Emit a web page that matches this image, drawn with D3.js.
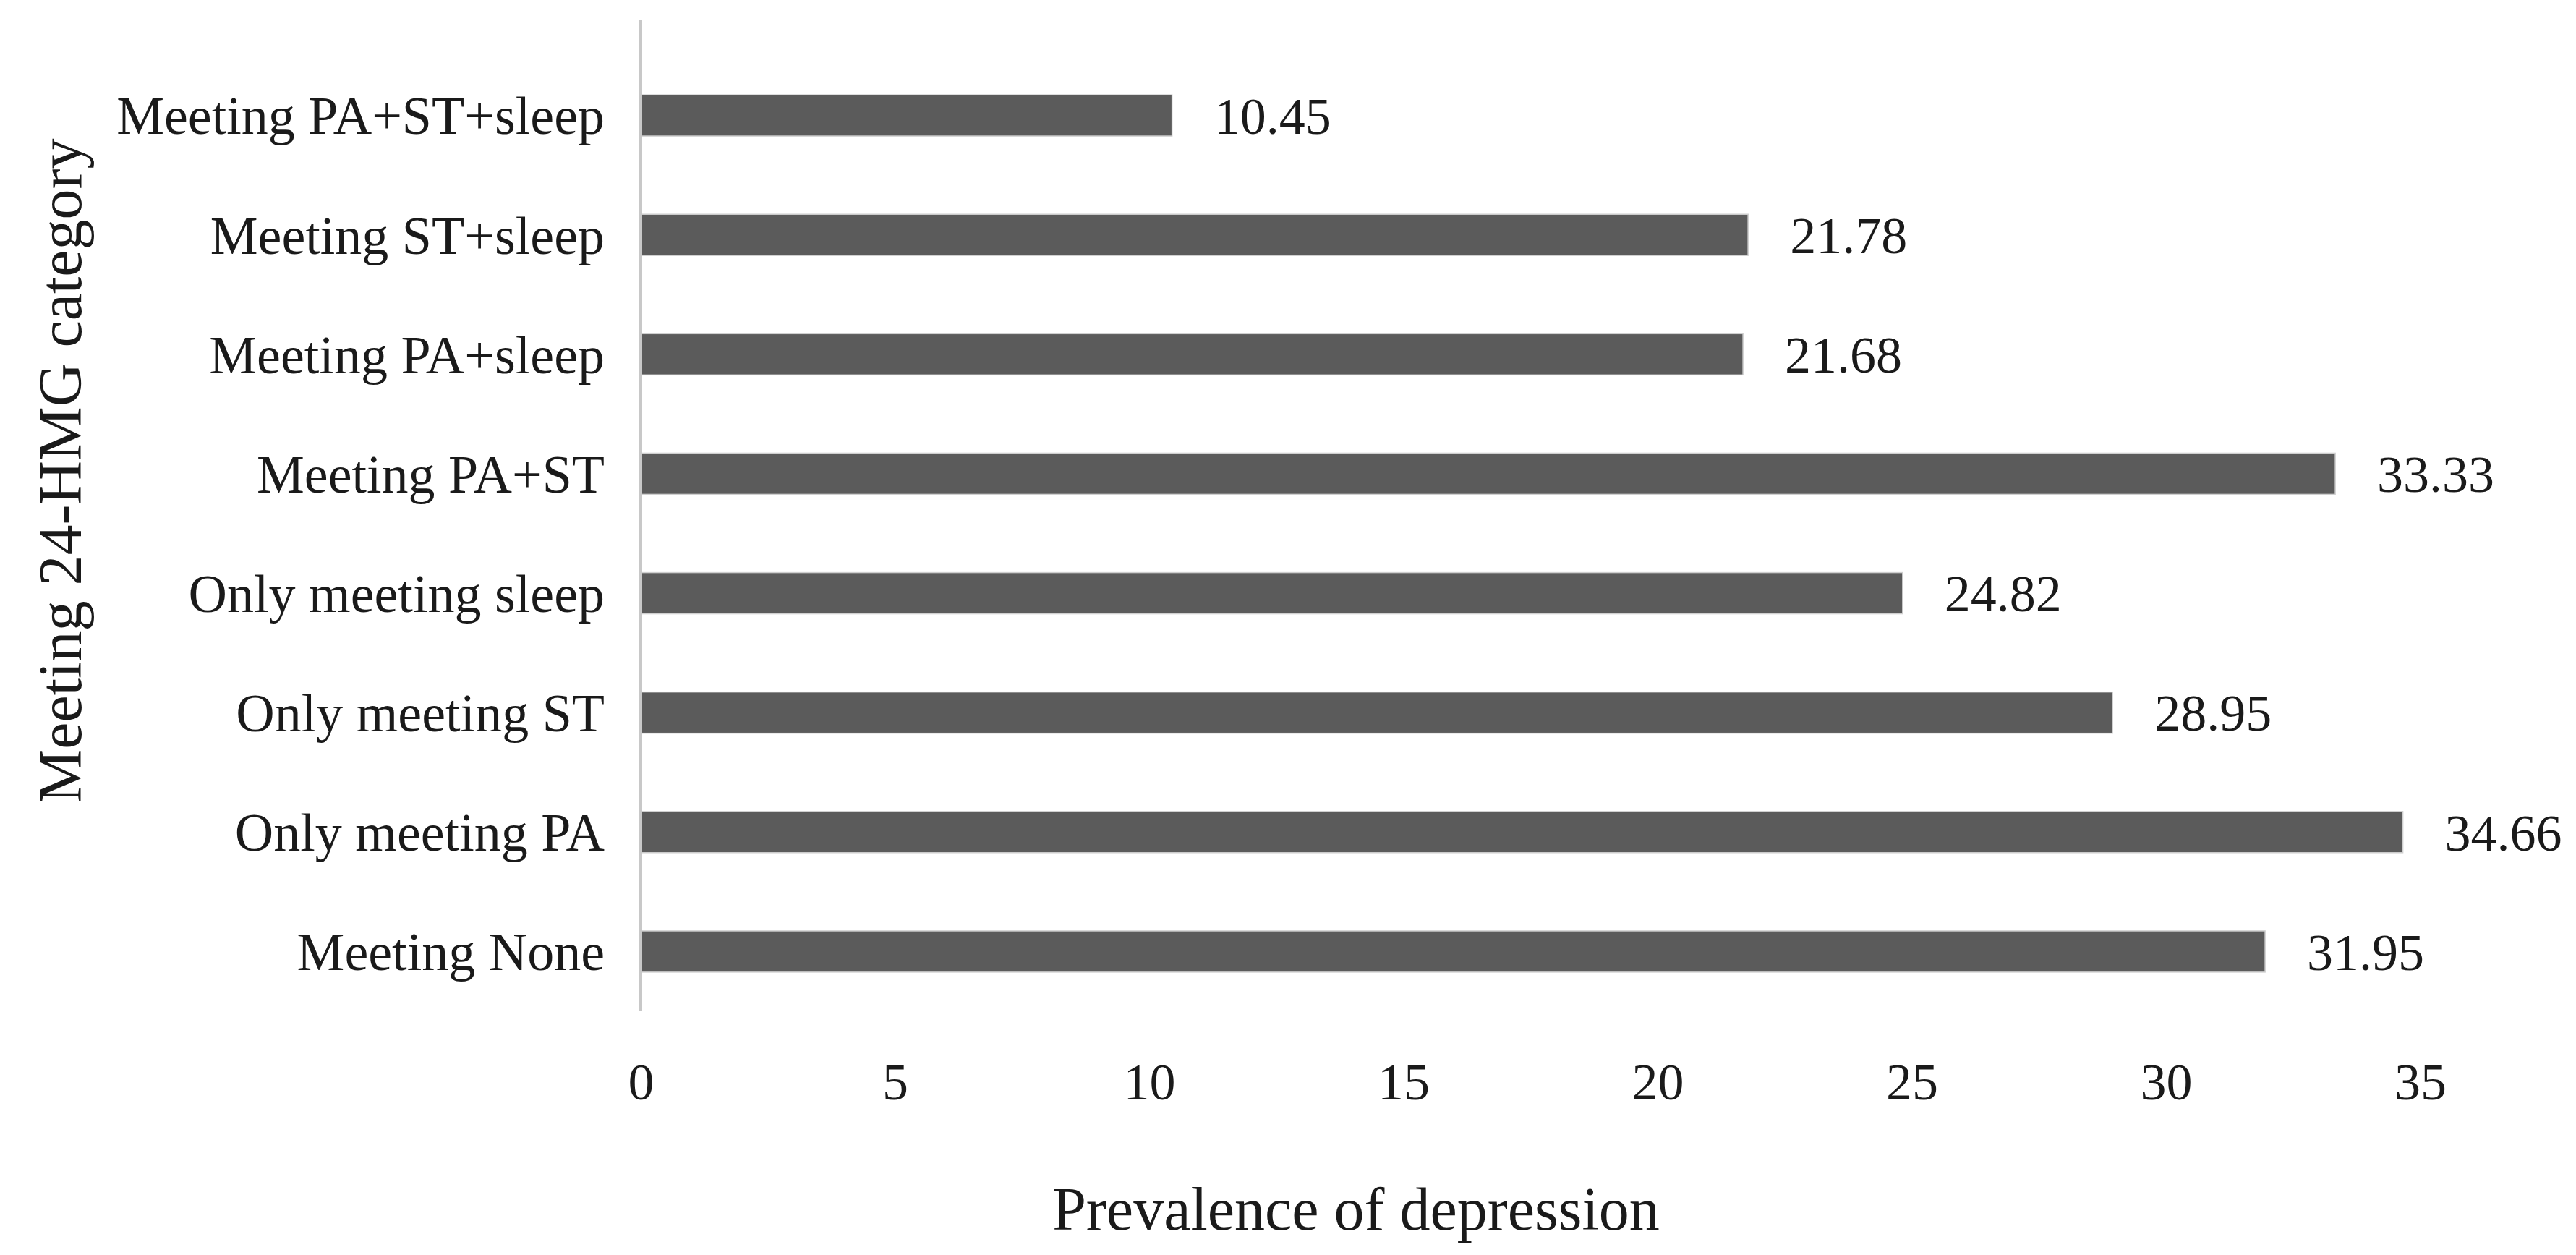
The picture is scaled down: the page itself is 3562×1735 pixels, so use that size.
<!DOCTYPE html>
<html>
<head>
<meta charset="utf-8">
<script src="https://cdn.jsdelivr.net/npm/d3@7"></script>
<style>
  html, body { margin: 0; padding: 0; background: #ffffff; }
  svg { display: block; }
  text { font-family: "Liberation Serif", "Times New Roman", serif; fill: #1a1a1a; }
</style>
</head>
<body>
<svg id="chart" width="3562" height="1735"></svg>
<script>
// ---- data ----
const categories = [
  "Meeting PA+ST+sleep",
  "Meeting ST+sleep",
  "Meeting PA+sleep",
  "Meeting PA+ST",
  "Only meeting sleep",
  "Only meeting ST",
  "Only meeting PA",
  "Meeting None"
];
const values = [10.45, 21.78, 21.68, 33.33, 24.82, 28.95, 34.66, 31.95];
const xTicks = [0, 5, 10, 15, 20, 25, 30, 35];
const xTitle = "Prevalence of depression";
const yTitle = "Meeting 24-HMG category";

// ---- layout ----
const W = 3562, H = 1735;
const x0 = 886, x1 = 886 + 35 * 70.3;
const bandTop = 77, bandBottom = 1398;
const axisTop = 28;

const svg = d3.select("#chart");

const x = d3.scaleLinear().domain([0, 35]).range([x0, x1]);
const y = d3.scaleBand().domain(categories).range([bandTop, bandBottom]).paddingInner(0.655).paddingOuter(0.3275);

// bars
svg.append("g").selectAll("rect")
  .data(categories)
  .join("rect")
  .attr("x", x(0))
  .attr("y", d => y(d))
  .attr("width", (d, i) => x(values[i]) - x(0))
  .attr("height", y.bandwidth())
  .attr("fill", "#5b5b5b")
  .attr("stroke", "#cfcfcf")
  .attr("stroke-width", 1.5);

// vertical axis line
svg.append("line")
  .attr("x1", x0).attr("x2", x0)
  .attr("y1", axisTop).attr("y2", bandBottom)
  .attr("stroke", "#c8c8c8")
  .attr("stroke-width", 4);

// category labels
svg.append("g").selectAll("text")
  .data(categories)
  .join("text")
  .attr("x", x0 - 50)
  .attr("y", d => y(d) + y.bandwidth() / 2)
  .attr("dy", "0.35em")
  .attr("text-anchor", "end")
  .attr("font-size", 74)
  .text(d => d);

// value labels
svg.append("g").selectAll("text")
  .data(categories)
  .join("text")
  .attr("x", (d, i) => x(values[i]) + 58)
  .attr("y", d => y(d) + y.bandwidth() / 2)
  .attr("dy", "0.35em")
  .attr("text-anchor", "start")
  .attr("font-size", 72)
  .attr("fill", "#2a2a2a")
  .text((d, i) => values[i].toFixed(2));

// x axis tick labels
const xAxis = d3.axisBottom(x).tickValues(xTicks).tickSize(0).tickPadding(0).tickFormat(d3.format("d"));
const gx = svg.append("g").attr("transform", `translate(0, 1520)`).call(xAxis);
gx.select(".domain").remove();
gx.selectAll("text")
  .attr("y", 0).attr("dy", 0)
  .attr("font-size", 72)
  .attr("font-family", "Liberation Serif, Times New Roman, serif")
  .attr("fill", "#1a1a1a");

// axis titles
svg.append("text")
  .attr("x", 1875).attr("y", 1700)
  .attr("text-anchor", "middle")
  .attr("font-size", 84)
  .text(xTitle);

svg.append("text")
  .attr("transform", "translate(112, 651) rotate(-90)")
  .attr("text-anchor", "middle")
  .attr("font-size", 84)
  .text(yTitle);
</script>
</body>
</html>
